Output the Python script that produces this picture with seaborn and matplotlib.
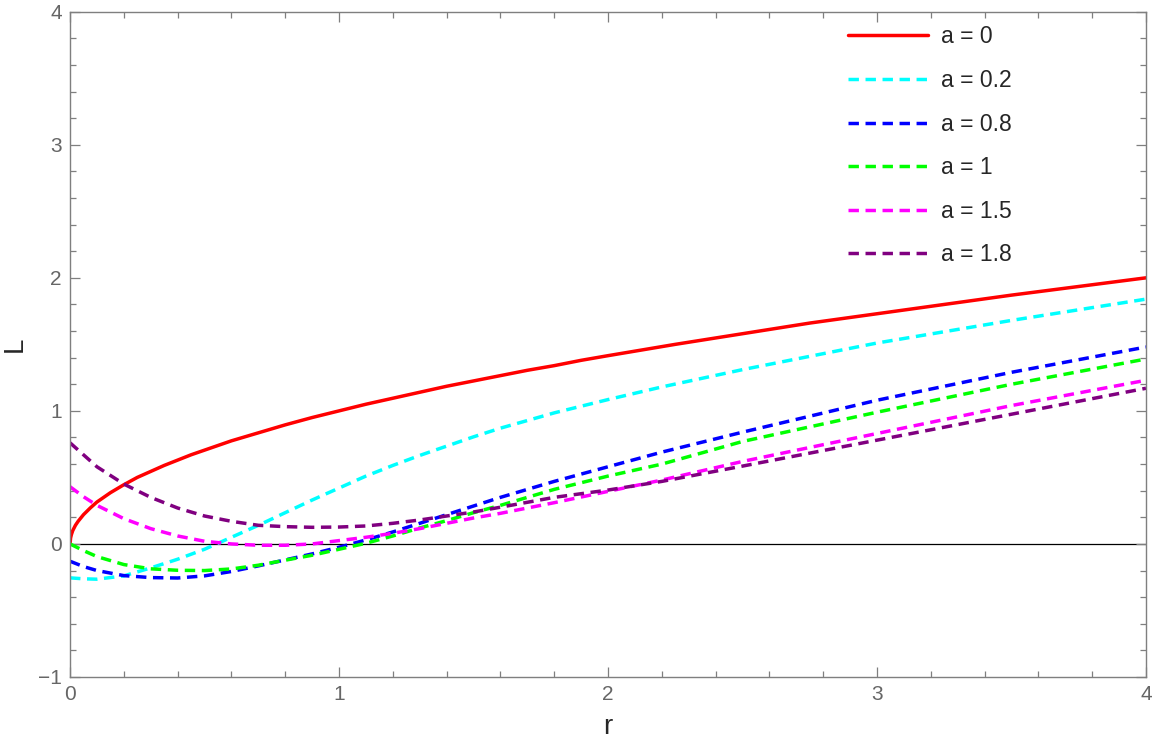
import pandas as pd
import seaborn as sns
import matplotlib.pyplot as plt
from matplotlib.ticker import MultipleLocator

# --- data ---
r_red = [0, 0.002, 0.005, 0.01, 0.02, 0.03, 0.05, 0.075, 0.1, 0.15, 0.2, 0.25, 0.3, 0.35,
         0.4, 0.45, 0.5, 0.6, 0.7, 0.8, 0.9, 1.0, 1.1, 1.2, 1.3, 1.4, 1.5, 1.6, 1.7, 1.8,
         1.9, 2.0, 2.25, 2.5, 2.75, 3.0, 3.25, 3.5, 3.75, 4.0]
L_red = [0, 0.045, 0.07, 0.1, 0.14, 0.17, 0.22, 0.27, 0.315, 0.385, 0.445, 0.5, 0.545, 0.59,
         0.63, 0.67, 0.705, 0.775, 0.835, 0.895, 0.95, 1.0, 1.05, 1.095, 1.14, 1.185, 1.225,
         1.265, 1.305, 1.34, 1.38, 1.415, 1.5, 1.58, 1.66, 1.73, 1.8, 1.87, 1.935, 2.0]

r_grid = [0, 0.05, 0.1, 0.2, 0.3, 0.4, 0.5, 0.6, 0.7, 0.8, 0.9, 1.0, 1.1, 1.2, 1.3, 1.4,
          1.5, 1.6, 1.8, 2.0, 2.2, 2.5, 3.0, 3.5, 4.0]
L_cyan = [-0.255, -0.262, -0.265, -0.24, -0.18, -0.115, -0.04, 0.05, 0.14, 0.235, 0.33,
          0.42, 0.51, 0.59, 0.665, 0.735, 0.805, 0.87, 0.985, 1.085, 1.18, 1.31, 1.51, 1.68, 1.84]
L_blue = [-0.13, -0.17, -0.2, -0.238, -0.253, -0.256, -0.24, -0.207, -0.165, -0.12, -0.075,
          -0.025, 0.03, 0.09, 0.155, 0.22, 0.285, 0.35, 0.47, 0.58, 0.69, 0.84, 1.08, 1.29, 1.48]
L_green = [0, -0.05, -0.095, -0.155, -0.187, -0.198, -0.2, -0.188, -0.16, -0.122, -0.085,
           -0.04, 0.005, 0.06, 0.12, 0.175, 0.235, 0.29, 0.41, 0.51, 0.6, 0.77, 0.99, 1.2, 1.39]
L_magenta = [0.43, 0.355, 0.29, 0.19, 0.115, 0.06, 0.02, 0.0, -0.01, -0.01, 0.0,
             0.025, 0.05, 0.08, 0.115, 0.155, 0.195, 0.23, 0.31, 0.395, 0.48, 0.62, 0.83, 1.04, 1.23]
L_purple = [0.76, 0.67, 0.58, 0.45, 0.35, 0.27, 0.21, 0.17, 0.14, 0.13, 0.125,
            0.127, 0.135, 0.155, 0.18, 0.21, 0.24, 0.276, 0.35, 0.405, 0.47, 0.585, 0.78, 0.975, 1.17]

labels = ["a = 0", "a = 0.2", "a = 0.8", "a = 1", "a = 1.5", "a = 1.8"]
colors = ["#ff0000", "#00ffff", "#0000ff", "#00ff00", "#ff00ff", "#800080"]

frames = [pd.DataFrame({"r": r_red, "L": L_red, "a": labels[0]})]
for lab, vals in zip(labels[1:], [L_cyan, L_blue, L_green, L_magenta, L_purple]):
    frames.append(pd.DataFrame({"r": r_grid, "L": vals, "a": lab}))
df = pd.concat(frames, ignore_index=True)

sns.set_style("ticks")
plt.rcParams["font.family"] = ["Liberation Sans", "DejaVu Sans"]

fig = plt.figure(figsize=(11.52, 7.46), dpi=100)
ax = fig.add_axes([0.0608, 0.0925, 0.934, 0.8918])

dash_map = {lab: (3.0, 1.9) for lab in labels[1:]}
dash_map[labels[0]] = ""
sns.lineplot(data=df, x="r", y="L", hue="a", style="a", hue_order=labels,
             style_order=labels, palette=dict(zip(labels, colors)), dashes=dash_map,
             estimator=None, sort=False, linewidth=2.5, legend=False, ax=ax)

curve_lines = list(ax.get_lines())
ax.axhline(0, color="black", lw=0.9, zorder=0)

ax.set_xlim(0, 4)
ax.set_ylim(-1, 4)
ax.xaxis.set_major_locator(MultipleLocator(1))
ax.xaxis.set_minor_locator(MultipleLocator(0.2))
ax.yaxis.set_minor_locator(MultipleLocator(0.2))
ax.set_yticks([-1, 0, 1, 2, 3, 4])
ax.set_yticklabels(["\u22121", "0", "1", "2", "3", "4"])

frame_col = "#7f7f7f"
for s in ax.spines.values():
    s.set_color(frame_col)
    s.set_linewidth(1.0)
ax.tick_params(which="both", direction="in", top=True, right=True, color=frame_col,
               labelcolor="#666666", labelsize=15, width=0.9)
ax.tick_params(which="major", length=7, pad=6)
ax.tick_params(which="minor", length=4)

ax.set_xlabel("r", fontsize=20, labelpad=7)
ax.set_ylabel("L", fontsize=20, labelpad=7)

ax.legend(curve_lines, labels, loc="upper left", bbox_to_anchor=(0.704, 1.0105),
          frameon=False, fontsize=16.5, handlelength=3.5, handletextpad=0.57,
          labelspacing=0.9)

plt.savefig("out.png", dpi=100)
